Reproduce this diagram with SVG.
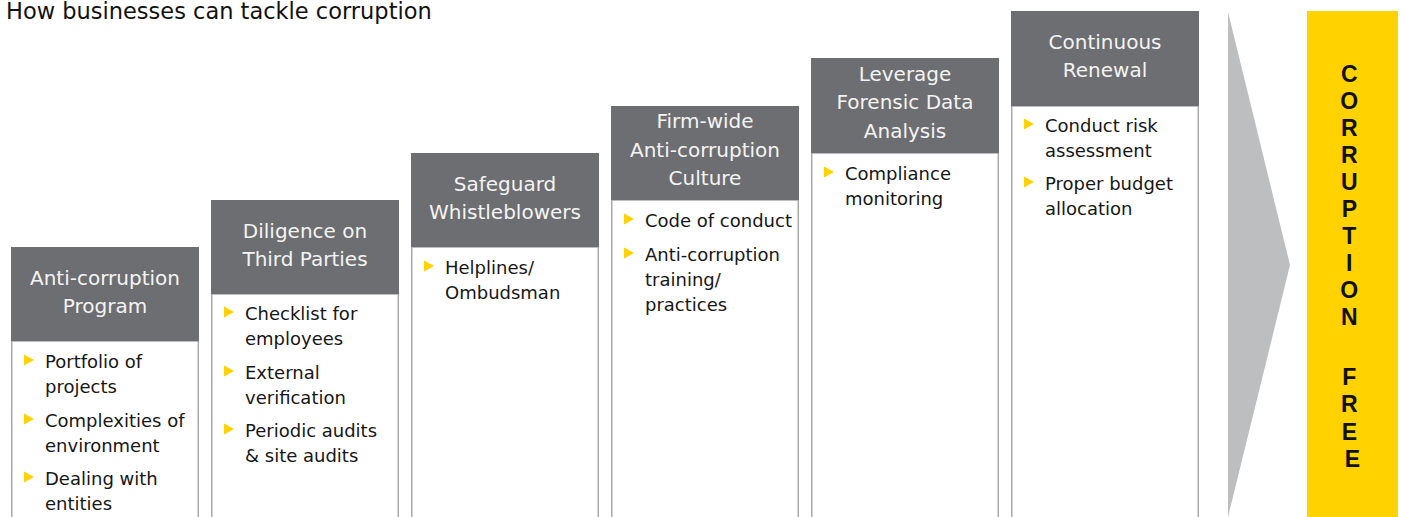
<svg xmlns="http://www.w3.org/2000/svg" xmlns:xlink="http://www.w3.org/1999/xlink" width="1405" height="517" viewBox="0 0 1405 517">
  <style>
    .title { font-family: "DejaVu Sans", "Liberation Sans", sans-serif; font-size: 22.5px; fill: #111; }
    .hdr { fill: #6d6e71; }
    .body { fill: #ffffff; stroke: #a7a9ac; stroke-width: 1.5; }
    .htxt { font-family: "DejaVu Sans", "Liberation Sans", sans-serif; font-size: 20px; fill: #f4f4f4; text-anchor: middle; }
    .btxt { font-family: "DejaVu Sans", "Liberation Sans", sans-serif; font-size: 18px; fill: #161616; }
    .bullet { fill: #ffd200; }
    .goal { font-family: "Liberation Sans", Arial, sans-serif; font-size: 23px; font-weight: bold; fill: #111; text-anchor: middle; }
  </style>
  <defs>
    <path id="tri" class="bullet" d="M0,-5.5 L10,0 L0,5.5 Z"/>
  </defs>

  <rect width="1405" height="517" fill="#ffffff"/>

  <text class="title" x="6" y="18.5">How businesses can tackle corruption</text>

  <!-- Step 1 -->
  <g id="step-program">
    <rect class="body" x="11.75" y="341" width="186.5" height="190"/>
    <rect class="hdr" x="11" y="247" width="188" height="94"/>
    <text class="htxt" x="105" y="285">Anti-corruption</text>
    <text class="htxt" x="105" y="313">Program</text>
    <use xlink:href="#tri" x="24" y="360"/>
    <text class="btxt" x="45" y="368">Portfolio of</text>
    <text class="btxt" x="45" y="393">projects</text>
    <use xlink:href="#tri" x="24" y="419"/>
    <text class="btxt" x="45" y="427">Complexities of</text>
    <text class="btxt" x="45" y="452">environment</text>
    <use xlink:href="#tri" x="24" y="477"/>
    <text class="btxt" x="45" y="485">Dealing with</text>
    <text class="btxt" x="45" y="510">entities</text>
  </g>

  <!-- Step 2 -->
  <g id="step-diligence">
    <rect class="body" x="211.75" y="294" width="186.5" height="240"/>
    <rect class="hdr" x="211" y="200" width="188" height="94"/>
    <text class="htxt" x="305" y="238">Diligence on</text>
    <text class="htxt" x="305" y="266">Third Parties</text>
    <use xlink:href="#tri" x="224" y="312"/>
    <text class="btxt" x="245" y="320">Checklist for</text>
    <text class="btxt" x="245" y="345">employees</text>
    <use xlink:href="#tri" x="224" y="371"/>
    <text class="btxt" x="245" y="379">External</text>
    <text class="btxt" x="245" y="404">verification</text>
    <use xlink:href="#tri" x="224" y="429"/>
    <text class="btxt" x="245" y="437">Periodic audits</text>
    <text class="btxt" x="245" y="462">&amp; site audits</text>
  </g>

  <!-- Step 3 -->
  <g id="step-whistleblowers">
    <rect class="body" x="411.75" y="247" width="186.5" height="290"/>
    <rect class="hdr" x="411" y="153" width="188" height="94"/>
    <text class="htxt" x="505" y="191">Safeguard</text>
    <text class="htxt" x="505" y="219">Whistleblowers</text>
    <use xlink:href="#tri" x="424" y="266"/>
    <text class="btxt" x="445" y="274">Helplines/</text>
    <text class="btxt" x="445" y="299">Ombudsman</text>
  </g>

  <!-- Step 4 -->
  <g id="step-culture">
    <rect class="body" x="611.75" y="200" width="186.5" height="340"/>
    <rect class="hdr" x="611" y="106" width="188" height="94"/>
    <text class="htxt" x="705" y="128">Firm-wide</text>
    <text class="htxt" x="705" y="157">Anti-corruption</text>
    <text class="htxt" x="705" y="185">Culture</text>
    <use xlink:href="#tri" x="624" y="219"/>
    <text class="btxt" x="645" y="227">Code of conduct</text>
    <use xlink:href="#tri" x="624" y="253"/>
    <text class="btxt" x="645" y="261">Anti-corruption</text>
    <text class="btxt" x="645" y="286">training/</text>
    <text class="btxt" x="645" y="311">practices</text>
  </g>

  <!-- Step 5 -->
  <g id="step-forensic">
    <rect class="body" x="811.75" y="153" width="186.5" height="390"/>
    <rect class="hdr" x="811" y="58" width="188" height="95"/>
    <text class="htxt" x="905" y="81">Leverage</text>
    <text class="htxt" x="905" y="109">Forensic Data</text>
    <text class="htxt" x="905" y="138">Analysis</text>
    <use xlink:href="#tri" x="824" y="172"/>
    <text class="btxt" x="845" y="180">Compliance</text>
    <text class="btxt" x="845" y="205">monitoring</text>
  </g>

  <!-- Step 6 -->
  <g id="step-renewal">
    <rect class="body" x="1011.75" y="106" width="186.5" height="440"/>
    <rect class="hdr" x="1011" y="11" width="188" height="95"/>
    <text class="htxt" x="1105" y="49">Continuous</text>
    <text class="htxt" x="1105" y="77">Renewal</text>
    <use xlink:href="#tri" x="1024" y="124"/>
    <text class="btxt" x="1045" y="132">Conduct risk</text>
    <text class="btxt" x="1045" y="157">assessment</text>
    <use xlink:href="#tri" x="1024" y="182"/>
    <text class="btxt" x="1045" y="190">Proper budget</text>
    <text class="btxt" x="1045" y="215">allocation</text>
  </g>

  <!-- Chevron leading to the outcome -->
  <g id="connectors">
    <polygon points="1228,12 1290,265 1228,517" fill="#bcbec0"/>
  </g>

  <!-- Outcome -->
  <g id="outcome">
    <rect x="1307" y="11" width="91" height="506" fill="#ffd200"/>
    <text class="goal">
      <tspan x="1352.5" y="82">C</tspan>
      <tspan x="1352.5" y="109">O</tspan>
      <tspan x="1352.5" y="136">R</tspan>
      <tspan x="1352.5" y="163">R</tspan>
      <tspan x="1352.5" y="190">U</tspan>
      <tspan x="1352.5" y="217">P</tspan>
      <tspan x="1352.5" y="244">T</tspan>
      <tspan x="1352.5" y="271">I</tspan>
      <tspan x="1352.5" y="298">O</tspan>
      <tspan x="1352.5" y="325">N</tspan>
      <tspan x="1352.5" y="385">F</tspan>
      <tspan x="1352.5" y="412">R</tspan>
      <tspan x="1352.5" y="440">E</tspan>
      <tspan x="1352.5" y="467">E</tspan>
    </text>
  </g>
</svg>
